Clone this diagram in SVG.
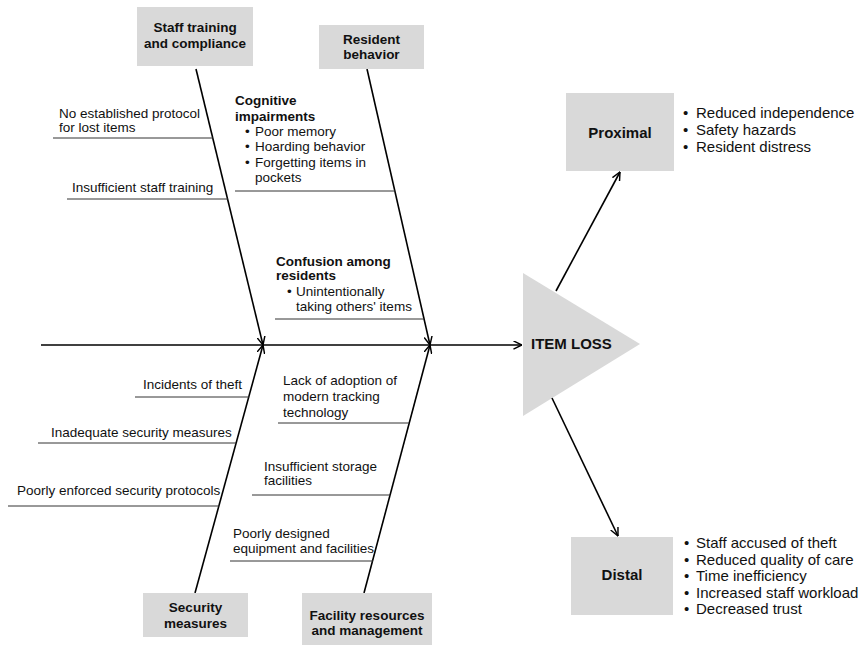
<svg xmlns="http://www.w3.org/2000/svg" width="862" height="645" viewBox="0 0 862 645">
<defs>
<marker id="arr" viewBox="0 0 10 10" refX="9.5" refY="5" markerWidth="9" markerHeight="9" markerUnits="userSpaceOnUse" orient="auto">
<path d="M0,0.5 L9.5,5 L0,9.5" fill="none" stroke="#000" stroke-width="1.6"/>
</marker>
<style>
.box{fill:#d9d9d9}
.t{font-family:"Liberation Sans",Arial,sans-serif;font-size:13.5px;fill:#111}
.b{font-weight:bold}
.m{text-anchor:middle}
.l{font-size:15px}
.bone{stroke:#000;stroke-width:1.6;fill:none}
.sub{stroke:#333;stroke-width:1;fill:none}
</style>
</defs>
<rect width="862" height="645" fill="#fff"/>

<g id="connectors">
<line class="bone" x1="41" y1="345" x2="522" y2="345" marker-end="url(#arr)"/>
<line class="bone" x1="196" y1="69" x2="263" y2="345" marker-end="url(#arr)"/>
<line class="bone" x1="367" y1="69" x2="430" y2="345" marker-end="url(#arr)"/>
<line class="bone" x1="195" y1="593" x2="263" y2="345" marker-end="url(#arr)"/>
<line class="bone" x1="364" y1="593" x2="430" y2="345" marker-end="url(#arr)"/>
<line class="sub" x1="53" y1="138" x2="213" y2="138"/>
<line class="sub" x1="67" y1="199" x2="228" y2="199"/>
<line class="sub" x1="235" y1="191" x2="395" y2="191"/>
<line class="sub" x1="275" y1="319" x2="424" y2="319"/>
<line class="sub" x1="135" y1="397" x2="249" y2="397"/>
<line class="sub" x1="38" y1="443" x2="236" y2="443"/>
<line class="sub" x1="8" y1="506" x2="219" y2="506"/>
<line class="sub" x1="278" y1="423" x2="409" y2="423"/>
<line class="sub" x1="252" y1="495" x2="390" y2="495"/>
<line class="sub" x1="230" y1="561" x2="373" y2="561"/>
</g>

<g id="item-loss">
<polygon class="box" points="523,273 640,344 523,416"/>
<text class="t b l" x="531" y="348.5">ITEM LOSS</text>
</g>

<g id="effect-arrows">
<line class="bone" x1="556" y1="291" x2="620" y2="172" marker-end="url(#arr)"/>
<line class="bone" x1="552" y1="398" x2="618" y2="536" marker-end="url(#arr)"/>
</g>

<g id="staff-training">
<rect class="box" x="137" y="7" width="116" height="59"/>
<text class="t b m" x="195" y="32">Staff training</text>
<text class="t b m" x="195" y="48">and compliance</text>
</g>

<g id="resident-behavior">
<rect class="box" x="319" y="25" width="105" height="44"/>
<text class="t b m" x="371.5" y="44">Resident</text>
<text class="t b m" x="371.5" y="59">behavior</text>
</g>

<g id="security-measures">
<rect class="box" x="143" y="593" width="105" height="44"/>
<text class="t b m" x="195.5" y="612">Security</text>
<text class="t b m" x="195.5" y="628">measures</text>
</g>

<g id="facility-resources">
<rect class="box" x="302" y="593" width="130" height="52"/>
<text class="t b m" x="367" y="620">Facility resources</text>
<text class="t b m" x="367" y="635">and management</text>
</g>

<g id="proximal">
<rect class="box" x="566" y="93" width="108" height="78"/>
<text class="t b l m" x="620" y="138">Proximal</text>
<text class="t l" x="683" y="118">•</text>
<text class="t l" x="696" y="118">Reduced independence</text>
<text class="t l" x="683" y="135">•</text>
<text class="t l" x="696" y="135">Safety hazards</text>
<text class="t l" x="683" y="152">•</text>
<text class="t l" x="696" y="152">Resident distress</text>
</g>

<g id="distal">
<rect class="box" x="571" y="537" width="102" height="78"/>
<text class="t b l m" x="622" y="580">Distal</text>
<text class="t l" x="684" y="548">•</text>
<text class="t l" x="696" y="548">Staff accused of theft</text>
<text class="t l" x="684" y="564.5">•</text>
<text class="t l" x="696" y="564.5">Reduced quality of care</text>
<text class="t l" x="684" y="581">•</text>
<text class="t l" x="696" y="581">Time inefficiency</text>
<text class="t l" x="684" y="597.5">•</text>
<text class="t l" x="696" y="597.5">Increased staff workload</text>
<text class="t l" x="684" y="614">•</text>
<text class="t l" x="696" y="614">Decreased trust</text>
</g>

<g id="staff-causes">
<text class="t" x="59" y="118">No established protocol</text>
<text class="t" x="59" y="132">for lost items</text>
<text class="t" x="72" y="192">Insufficient staff training</text>
</g>

<g id="cognitive-impairments">
<text class="t b" x="235" y="105">Cognitive</text>
<text class="t b" x="235" y="121">impairments</text>
<text class="t" x="245" y="136">•</text>
<text class="t" x="255" y="136">Poor memory</text>
<text class="t" x="245" y="151">•</text>
<text class="t" x="255" y="151">Hoarding behavior</text>
<text class="t" x="245" y="167">•</text>
<text class="t" x="255" y="167">Forgetting items in</text>
<text class="t" x="255" y="182">pockets</text>
</g>

<g id="confusion">
<text class="t b" x="276" y="266">Confusion among</text>
<text class="t b" x="276" y="280">residents</text>
<text class="t" x="287" y="296">•</text>
<text class="t" x="296" y="296">Unintentionally</text>
<text class="t" x="296" y="311">taking others' items</text>
</g>

<g id="security-causes">
<text class="t" x="143" y="389">Incidents of theft</text>
<text class="t" x="51" y="437">Inadequate security measures</text>
<text class="t" x="17" y="495">Poorly enforced security protocols</text>
</g>

<g id="facility-causes">
<text class="t" x="283" y="385">Lack of adoption of</text>
<text class="t" x="283" y="401">modern tracking</text>
<text class="t" x="283" y="417">technology</text>
<text class="t" x="264" y="471">Insufficient storage</text>
<text class="t" x="264" y="485">facilities</text>
<text class="t" x="233" y="538">Poorly designed</text>
<text class="t" x="233" y="553">equipment and facilities</text>
</g>
</svg>
